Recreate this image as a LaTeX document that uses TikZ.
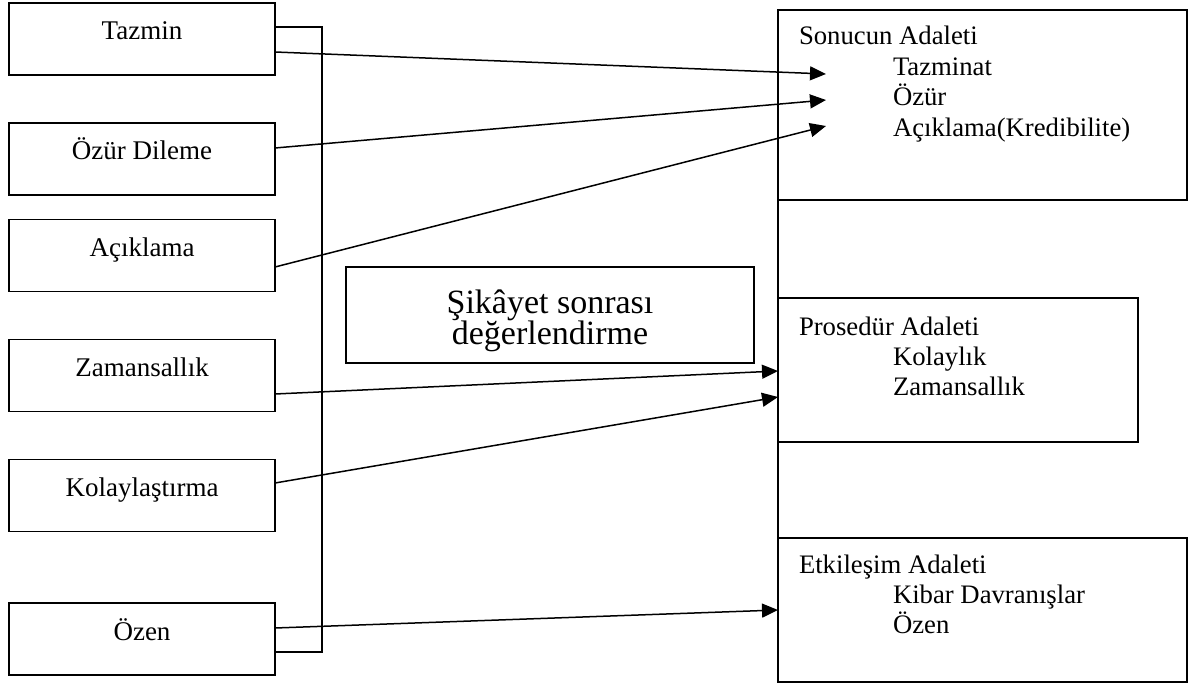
\documentclass[tikz,border=0pt]{standalone}
\usepackage{fontspec}
\setmainfont{Liberation Serif}
\usetikzlibrary{arrows.meta}

\begin{document}
\begin{tikzpicture}[x=1pt, y=-1pt,
  line width=1.5pt,
  every node/.style={outer sep=0pt},
  srcbox/.style={draw, rectangle, inner sep=0pt, minimum width=266pt, minimum height=72pt,
    font=\fontsize{27}{30.5}\selectfont, text height=15pt, text depth=13pt},
  groupbox/.style={draw, rectangle, inner sep=0pt, anchor=north west},
  txt/.style={inner sep=0pt, anchor=base west, font=\fontsize{26.7}{30.5}\selectfont},
  bigtxt/.style={inner sep=0pt, anchor=base, font=\fontsize{34}{30}\selectfont},
  arr/.style={-{Triangle[length=16pt, width=14pt]}}
]
\useasboundingbox (0,0) rectangle (1193,684);

% left column: recovery actions
\node[srcbox] (tazmin)  at (142,39)    {Tazmin};
\node[srcbox] (ozur)    at (142,159)   {Özür Dileme};
\node[srcbox] (aciklama) at (142,255.5) {Açıklama};
\node[srcbox] (zaman)   at (142,375.5) {Zamansallık};
\node[srcbox] (kolay)   at (142,495.5) {Kolaylaştırma};
\node[srcbox] (ozen)    at (142,639)   {Özen};

% bracket joining the left column
\draw ([yshift=12pt]tazmin.east) -- ++(47,0) |- ([yshift=-13pt]ozen.east);

% central box
\node[draw, rectangle, inner sep=0pt, minimum width=408pt, minimum height=96pt] (eval) at (550,315) {};
\node[bigtxt] (evalA) at (550,313) {Şikâyet sonrası};
\node[bigtxt] (evalB) at (550,344) {değerlendirme};

% right column: justice dimensions
\node[groupbox, minimum width=409pt, minimum height=190pt] (sonuc) at (778,10) {};
\node[groupbox, minimum width=360pt, minimum height=144pt] (prosedur) at (778,298) {};
\node[groupbox, minimum width=409pt, minimum height=144pt] (etkilesim) at (778,538) {};
\draw (sonuc.south west) -- (prosedur.north west);
\draw (prosedur.south west) -- (etkilesim.north west);

\node[txt] (sA) at (799,45)    {Sonucun Adaleti};
\node[txt] (sB) at (893,75.5)  {Tazminat};
\node[txt] (sC) at (893,106)   {Özür};
\node[txt] (sD) at (893,136.5) {Açıklama(Kredibilite)};

\node[txt] (pA) at (799,335) {Prosedür Adaleti};
\node[txt] (pB) at (893,365) {Kolaylık};
\node[txt] (pC) at (893,395) {Zamansallık};

\node[txt] (eA) at (799,573) {Etkileşim Adaleti};
\node[txt] (eB) at (893,603) {Kibar Davranışlar};
\node[txt] (eC) at (893,633) {Özen};

% arrow targets inside the outcome box
\coordinate (t1) at (826,74);
\coordinate (t2) at (826,100);
\coordinate (t3) at (826,126);

\draw[arr] ([yshift=-13pt]tazmin.east) -- (t1);
\draw[arr] ([yshift=11pt]ozur.east) -- (t2);
\draw[arr] ([yshift=-11.5pt]aciklama.east) -- (t3);
\draw[arr] ([yshift=-18.5pt]zaman.east) -- ([yshift=-1pt]prosedur.west);
\draw[arr] ([yshift=12.5pt]kolay.east) -- ([yshift=-27pt]prosedur.west);
\draw[arr] ([yshift=11pt]ozen.east) -- (etkilesim.west);
\end{tikzpicture}
\end{document}
